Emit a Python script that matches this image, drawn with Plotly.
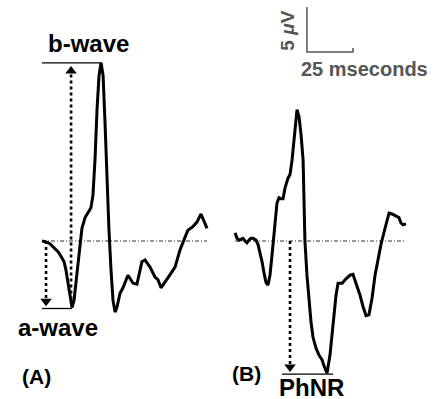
import plotly.graph_objects as go

# ---------------- data (ms, µV) ----------------
a_time = [0, 2.2, 4.3, 6.5, 8.7, 10.3, 12.0, 13.0, 14.1, 15.2, 16.3, 17.4, 18.5, 19.6, 20.7,
          21.7, 23.4, 25.0, 26.6, 27.7, 28.8, 29.9, 31.0, 32.1, 33.2, 34.2, 35.3, 36.4, 37.5,
          38.6, 39.7, 40.8, 42.4, 44.0, 46.7, 49.5, 51.6, 54.3, 56.0, 58.7, 61.4, 63.0, 64.7,
          67.9, 70.7, 72.3, 75.0, 77.7, 79.3, 82.0, 84.2, 86.4, 88.0, 89.7]
a_uv = [0, -0.1, -0.3, -0.7, -1.2, -1.7, -2.3, -3.2, -4.6, -6.2, -7.4, -6.6, -4.6, -2.1, 0.1,
        1.4, 2.6, 3.1, 3.7, 5.1, 9.0, 14.6, 18.4, 19.8, 18.4, 13.4, 6.8, 1.2, -3.2,
        -6.6, -7.9, -7.3, -5.8, -5.2, -3.8, -4.7, -4.8, -2.3, -2.1, -2.9, -4.0, -4.3, -5.2,
        -4.3, -3.4, -2.9, -1.0, 0.4, 1.2, 1.6, 2.1, 3.0, 2.3, 1.4]

b_time = [0, 1.1, 2.2, 3.3, 4.3, 5.4, 6.5, 7.6, 8.7, 9.8, 11.4, 12.5, 13.6, 14.7, 15.8, 16.8,
          17.9, 19.0, 20.1, 21.2, 22.3, 22.8, 23.9, 25.0, 26.1, 27.2, 28.8, 29.9, 31.0, 32.1,
          33.2, 33.7, 34.8, 35.9, 37.0, 37.5, 38.0, 39.1, 40.2, 41.3, 42.4, 44.0, 45.7, 47.3,
          48.4, 50.0, 51.6, 53.3, 54.9, 56.0, 58.2, 60.3, 62.5, 64.1, 65.8, 67.9, 69.6, 71.2,
          72.8, 74.5, 76.1, 77.7, 79.3, 81.0, 82.6, 83.7, 85.3, 87.5, 89.1, 90.2, 91.3, 92.9]
b_uv = [0.9, 0.3, 0.1, 0.2, 0.3, 0, -0.2, 0.1, 0.3, 0.3, 0.1, -0.4, -1.2, -2.3, -3.6, -4.6,
        -4.9, -3.8, -1.6, 0.7, 2.6, 4.2, 4.8, 4.7, 4.7, 5.9, 7.0, 7.4, 9.0, 11.2,
        14.0, 14.6, 13.8, 11.8, 9.0, 4.6, 0, -3.8, -6.6, -9.0, -10.7, -11.9, -12.7, -13.2,
        -13.9, -14.7, -12.7, -9.3, -6.0, -4.7, -4.7, -4.2, -3.8, -3.7, -4.7, -6.0, -7.3, -8.3,
        -8.2, -6.3, -3.8, -1.9, -0.4, 1.0, 2.3, 3.1, 3.0, 2.8, 2.6, 2.0, 1.8, 1.9]

B_SHIFT = 104.9          # ms offset of panel B on the shared axis

a_wave_time, a_wave_uv = 16.3, -7.5
b_wave_time, b_wave_uv = 32.1, 19.8
a_arrow_time = 2.2
b_arrow_time = 15.8
phnr_time_b, phnr_uv = 29.9, -14.8
phnr_line_start, phnr_line_end = 25.5, 53.3

scale_x0, scale_ms = 144.0, 25
scale_y0, scale_uv = 21.0, 5

panel_labels = ["(A)", "(B)"]
wave_labels = ["b-wave", "a-wave", "PhNR"]
scale_labels = ["5 <i>μ</i>V", "25 mseconds"]

# ---------------- figure ----------------
W, H = 441, 399
PX_MS = 1.84
PX_UV = 9.0
X0_PX, Y0_PX = 42, 241

BLACK = "#000000"
GRAY = "#555555"
FONT = "Liberation Sans, Arial, sans-serif"

fig = go.Figure()

def line(x, y, color=BLACK, width=1.5, dash="solid"):
    fig.add_trace(go.Scatter(x=x, y=y, mode="lines",
                             line=dict(color=color, width=width, dash=dash),
                             hoverinfo="skip", showlegend=False))

def head(x, y, symbol):
    fig.add_trace(go.Scatter(x=[x], y=[y], mode="markers",
                             marker=dict(symbol=symbol, size=10, color=BLACK),
                             hoverinfo="skip", showlegend=False))

b_abs = [t + B_SHIFT for t in b_time]

# baselines
line([a_time[0], a_time[-1]], [0, 0], color="#333333", width=1, dash="4px,2px,1px,2px")
line([b_abs[0], b_abs[-1]], [0, 0], color="#333333", width=1, dash="4px,2px,1px,2px")

# reference lines
line([0, b_wave_time], [b_wave_uv, b_wave_uv], width=1.3)
line([0, a_wave_time], [a_wave_uv, a_wave_uv], width=1.3)
line([phnr_line_start + B_SHIFT, phnr_line_end + B_SHIFT], [phnr_uv, phnr_uv], width=1.3)

# dotted arrows
line([b_arrow_time, b_arrow_time], [a_wave_uv + 1.0, b_wave_uv - 0.9], width=2.6, dash="dot")
head(b_arrow_time, b_wave_uv - 0.9, "triangle-up")
line([a_arrow_time, a_arrow_time], [0, a_wave_uv + 0.9], width=2.6, dash="dot")
head(a_arrow_time, a_wave_uv + 0.8, "triangle-down")
line([phnr_time_b + B_SHIFT] * 2, [0, phnr_uv + 0.9], width=2.6, dash="dot")
head(phnr_time_b + B_SHIFT, phnr_uv + 0.8, "triangle-down")

# waveforms
line(a_time, a_uv, width=3)
line(b_abs, b_uv, width=3)

# scale bar
line([scale_x0, scale_x0, scale_x0 + scale_ms, scale_x0 + scale_ms],
     [scale_y0 + scale_uv, scale_y0, scale_y0, scale_y0 + 0.45], color=GRAY, width=1.5)

def txt(x, y, s, size, color=BLACK, angle=0):
    fig.add_annotation(x=x, y=y, text="<b>%s</b>" % s, showarrow=False,
                       font=dict(family=FONT, size=size, color=color),
                       textangle=angle, xanchor="center", yanchor="middle")

txt(25.5, 21.9, wave_labels[0], 24)
txt(8.7, -9.6, wave_labels[1], 24)
txt(146.2, -16.3, wave_labels[2], 24)
txt(-2.8, -15.1, panel_labels[0], 21)
txt(111.4, -14.7, panel_labels[1], 21)
txt(133.3, 23.4, scale_labels[0], 19, GRAY, -90)
txt(175.5, 19.1, scale_labels[1], 20, GRAY)

fig.update_layout(
    width=W, height=H, margin=dict(l=0, r=0, t=0, b=0),
    paper_bgcolor="white", plot_bgcolor="white", showlegend=False,
    xaxis=dict(range=[-X0_PX / PX_MS, (W - X0_PX) / PX_MS], visible=False, fixedrange=True),
    yaxis=dict(range=[-(H - Y0_PX) / PX_UV, Y0_PX / PX_UV], visible=False, fixedrange=True),
)

fig.write_html("out.html", config={"displayModeBar": False},
               post_script="document.body.style.margin='0';document.body.style.overflow='hidden';")
